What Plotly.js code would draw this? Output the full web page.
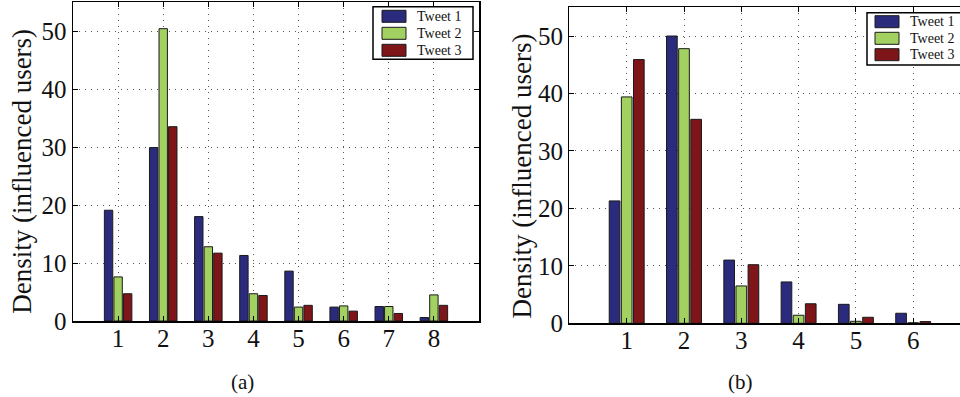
<!DOCTYPE html>
<html>
<head>
<meta charset="utf-8">
<script src="https://cdn.plot.ly/plotly-3.0.1.min.js"></script>
<style>
  html, body { margin: 0; padding: 0; overflow: hidden; background: #fff; }
  #chart { width: 980px; height: 397px; }
</style>
</head>
<body>
<div id="chart"></div>
<script>
// ---- data ----
const seriesNames = ["Tweet 1", "Tweet 2", "Tweet 3"];
const seriesColors = ["#2b2b7d", "#a2d162", "#7e1518"];

const categoriesA = [1, 2, 3, 4, 5, 6, 7, 8];
const tweet1A = [19.1, 29.9, 18.0, 11.3, 8.6, 2.4, 2.5, 0.6];
const tweet2A = [7.6, 50.4, 12.8, 4.7, 2.4, 2.6, 2.5, 4.5];
const tweet3A = [4.7, 33.5, 11.7, 4.4, 2.7, 1.7, 1.3, 2.7];

const categoriesB = [1, 2, 3, 4, 5, 6];
const tweet1B = [21.3, 50.0, 11.0, 7.2, 3.3, 1.75];
const tweet2B = [39.4, 47.8, 6.5, 1.4, 0.35, 0.1];
const tweet3B = [45.9, 35.5, 10.2, 3.4, 1.05, 0.3];

const yTicks = [0, 10, 20, 30, 40, 50];
const yTitle = "Density (influenced users)";
const captions = ["(a)", "(b)"];

// ---- layout helpers ----
const W = 980, H = 397;
const px = v => v / W;
const py = v => 1 - v / H;
const FONT = "Liberation Serif";

function barTrace(x, y, i, xa, ya) {
  return {
    type: "bar", x: x, y: y, name: seriesNames[i],
    xaxis: xa, yaxis: ya, showlegend: false,
    marker: { color: seriesColors[i], line: { color: "#1a1a1a", width: 1 } },
    hoverinfo: "x+y+name"
  };
}

const traces = [
  barTrace(categoriesA, tweet1A, 0, "x", "y"),
  barTrace(categoriesA, tweet2A, 1, "x", "y"),
  barTrace(categoriesA, tweet3A, 2, "x", "y"),
  barTrace(categoriesB, tweet1B, 0, "x2", "y2"),
  barTrace(categoriesB, tweet2B, 1, "x2", "y2"),
  barTrace(categoriesB, tweet3B, 2, "x2", "y2")
];

function xAxis(domain, range, ticks, anchor) {
  return {
    domain: domain, range: range, anchor: anchor,
    tickmode: "array", tickvals: ticks, ticktext: ticks.map(String),
    ticks: "inside", ticklen: 5, tickwidth: 1, tickcolor: "#000",
    ticklabelstandoff: -6,
    mirror: "ticks", showline: true, linecolor: "#000", linewidth: 1.5,
    showgrid: true, gridcolor: "#555", gridwidth: 1, griddash: "1px,5px",
    zeroline: false, fixedrange: true,
    tickfont: { family: FONT, size: 25, color: "#111" }
  };
}
function yAxis(domain, anchor) {
  return {
    domain: domain, range: [0, 55], anchor: anchor,
    tickmode: "array", tickvals: yTicks, ticktext: yTicks.map(String),
    ticks: "inside", ticklen: 5, tickwidth: 1, tickcolor: "#000",
    mirror: "ticks", showline: true, linecolor: "#000", linewidth: 1.5,
    showgrid: true, gridcolor: "#555", gridwidth: 1, griddash: "1px,5px",
    zeroline: false, fixedrange: true,
    tickfont: { family: FONT, size: 25, color: "#111" }
  };
}

// manual legends (wide swatches like the original)
function legendShapes(left, top, right, bottom, swLeft, rows) {
  const shapes = [{
    type: "rect", xref: "paper", yref: "paper",
    x0: px(left), x1: px(right), y0: py(bottom), y1: py(top),
    line: { color: "#000", width: 1.5 }, fillcolor: "#fff", layer: "above"
  }];
  rows.forEach((cy, i) => {
    shapes.push({
      type: "rect", xref: "paper", yref: "paper",
      x0: px(swLeft), x1: px(swLeft + 24), y0: py(cy + 6), y1: py(cy - 6),
      line: { color: "#1a1a1a", width: 1 }, fillcolor: seriesColors[i], layer: "above"
    });
  });
  return shapes;
}
function legendTexts(textLeft, rows) {
  return rows.map((cy, i) => ({
    xref: "paper", yref: "paper", x: px(textLeft), y: py(cy),
    xanchor: "left", yanchor: "middle", showarrow: false,
    text: seriesNames[i], font: { family: FONT, size: 14, color: "#111" }
  }));
}
function textAt(x, y, text, size, angle) {
  return {
    xref: "paper", yref: "paper", x: px(x), y: py(y), xanchor: "center", yanchor: "middle",
    showarrow: false, text: text, textangle: angle || 0,
    font: { family: FONT, size: size, color: "#111" }
  };
}

const rowsA = [16.3, 33.3, 50.3];
const rowsB = [21.7, 38.3, 54.7];

const layout = {
  width: W, height: H,
  margin: { l: 0, r: 0, t: 0, b: 0 },
  paper_bgcolor: "#fff", plot_bgcolor: "#fff",
  font: { family: FONT },
  barmode: "group", bargap: 0.365, bargroupgap: 0.12,
  showlegend: false,
  xaxis: xAxis([px(73), px(479)], [0, 9], categoriesA, "y"),
  yaxis: yAxis([1 - 321 / H, 1 - 2 / H], "x"),
  xaxis2: xAxis([px(569.4), px(970.5)], [0, 7], categoriesB, "y2"),
  yaxis2: yAxis([1 - 323.3 / H, 1 - 7.3 / H], "x2"),
  shapes: legendShapes(373, 6.7, 473, 59.3, 382, rowsA)
    .concat(legendShapes(867, 12.7, 975, 65, 875, rowsB)),
  annotations: legendTexts(415, rowsA).concat(legendTexts(908, rowsB)).concat([
    textAt(21.8, 171, yTitle, 27, -90),
    textAt(521.7, 175.7, yTitle, 27, -90),
    textAt(242, 382, captions[0], 21),
    textAt(740, 382, captions[1], 21)
  ])
};

Plotly.newPlot("chart", traces, layout, { staticPlot: true, displayModeBar: false });
</script>
</body>
</html>
